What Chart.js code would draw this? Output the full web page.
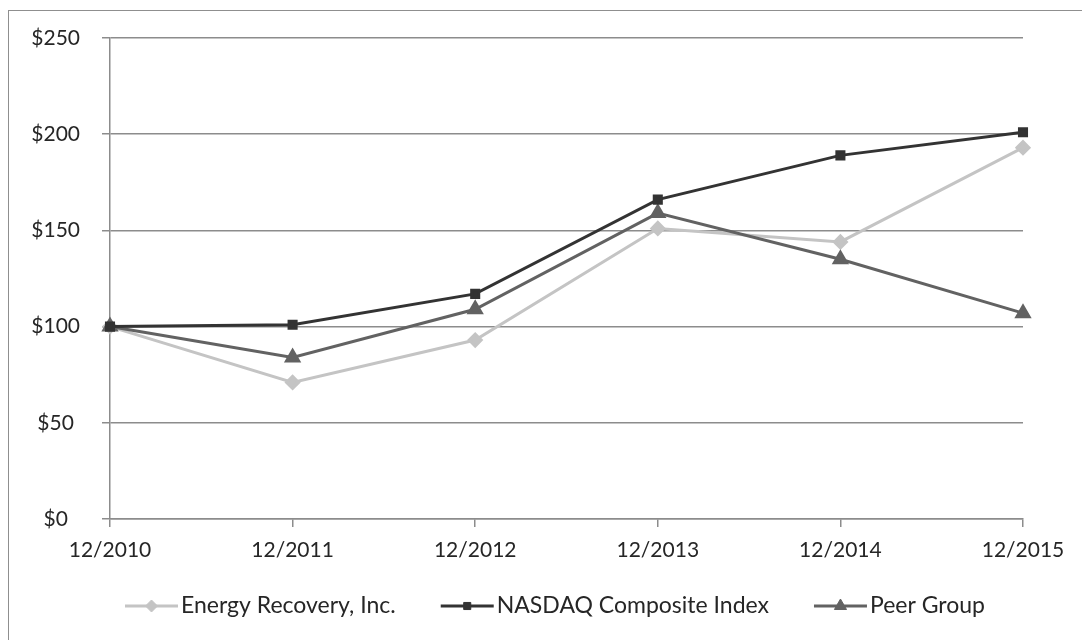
<!DOCTYPE html>
<html>
<head>
<meta charset="utf-8">
<script src="https://cdn.jsdelivr.net/npm/chart.js@4"></script>
<style>
  html, body { margin: 0; padding: 0; background: #fff; }
  #wrap { width: 1082px; height: 640px; position: relative; }
</style>
</head>
<body>
<div id="wrap"><canvas id="myChart"></canvas></div>
<script>
// datos
const categories = ['12/2010', '12/2011', '12/2012', '12/2013', '12/2014', '12/2015'];
const energyRecovery = [100, 71, 93, 151, 144, 193];
const nasdaq = [100, 101, 117, 166, 189, 201];
const peerGroup = [100, 84, 109, 159, 135, 107];
const yTicks = [0, 50, 100, 150, 200, 250];

const FONT = 'Lato, "Open Sans", sans-serif';
const TEXT = '#262626';
const GRID = '#8c8c8c';

// borde exterior y leyenda estilo Excel
const frame = {
  id: 'frame',
  beforeDraw(chart) {
    const ctx = chart.ctx;
    ctx.save();
    ctx.strokeStyle = '#8f8f8f';
    ctx.lineWidth = 1;
    ctx.strokeRect(8.5, 10.5, 1200, 800);
    ctx.restore();
  },
  afterDraw(chart) {
    const ctx = chart.ctx;
    ctx.save();
    ctx.font = '23px ' + FONT;
    ctx.textBaseline = 'middle';
    const y = 606;
    const lineLen = 53, gapTxt = 3, gapItem = 45;
    const items = chart.data.datasets.map(ds => ({ ds, w: ctx.measureText(ds.label).width }));
    let total = 0;
    items.forEach((it, i) => { total += lineLen + gapTxt + it.w + (i < items.length - 1 ? gapItem : 0); });
    let x = 555 - total / 2;
    items.forEach(it => {
      const ds = it.ds;
      ctx.strokeStyle = ds.borderColor;
      ctx.lineWidth = 3;
      ctx.beginPath();
      ctx.moveTo(x, y);
      ctx.lineTo(x + lineLen, y);
      ctx.stroke();
      ctx.fillStyle = ds.pointBackgroundColor;
      ctx.strokeStyle = ds.pointBackgroundColor;
      ctx.lineWidth = 1;
      Chart.helpers.drawPoint(ctx, { pointStyle: ds.pointStyle, radius: ds.pointRadius, borderWidth: 1 }, x + lineLen / 2, y);
      ctx.fillStyle = TEXT;
      ctx.textAlign = 'left';
      ctx.fillText(ds.label, x + lineLen + gapTxt, y);
      x += lineLen + gapTxt + it.w + gapItem;
    });
    ctx.restore();
  }
};

const ctx = document.getElementById('myChart').getContext('2d');
new Chart(ctx, {
  type: 'line',
  data: {
    labels: categories,
    datasets: [
      {
        label: 'Energy Recovery, Inc.',
        data: energyRecovery,
        borderColor: '#c4c4c4',
        backgroundColor: '#c4c4c4',
        pointBackgroundColor: '#c4c4c4',
        pointBorderColor: '#c4c4c4',
        pointStyle: 'rectRot',
        pointRadius: 6,
        borderWidth: 3,
        order: 3,
      },
      {
        label: 'NASDAQ Composite Index',
        data: nasdaq,
        borderColor: '#333333',
        backgroundColor: '#333333',
        pointBackgroundColor: '#333333',
        pointBorderColor: '#333333',
        pointStyle: 'rect',
        pointRadius: 5,
        borderWidth: 3,
        order: 1,
      },
      {
        label: 'Peer Group',
        data: peerGroup,
        borderColor: '#626262',
        backgroundColor: '#626262',
        pointBackgroundColor: '#626262',
        pointBorderColor: '#626262',
        pointStyle: 'triangle',
        pointRadius: 7,
        borderWidth: 3,
        order: 2,
      },
    ],
  },
  options: {
    responsive: true,
    maintainAspectRatio: false,
    animation: false,
    layout: { padding: { left: 0, right: 59, top: 38, bottom: 0 } },
    plugins: {
      legend: { display: false },
      tooltip: { enabled: false },
    },
    scales: {
      x: {
        type: 'category',
        offset: false,
        grid: { drawOnChartArea: false, drawTicks: true, tickLength: 8, color: GRID, lineWidth: 1.5 },
        border: { color: GRID, width: 1.5 },
        ticks: { font: { family: FONT, size: 21 }, color: TEXT, padding: 11, maxRotation: 0 },
        afterFit(scale) { scale.height = 121; },
      },
      y: {
        min: 0,
        max: 250,
        afterBuildTicks(scale) { scale.ticks = yTicks.map(v => ({ value: v })); },
        grid: { color: GRID, lineWidth: 1.5, tickLength: 8 },
        border: { color: GRID, width: 1.5 },
        ticks: {
          font: { family: FONT, size: 21 },
          color: TEXT,
          padding: 22,
          crossAlign: 'center',
          callback: v => '$' + v,
        },
        afterFit(scale) { scale.width = 110; },
      },
    },
  },
  plugins: [frame],
});
</script>
</body>
</html>
